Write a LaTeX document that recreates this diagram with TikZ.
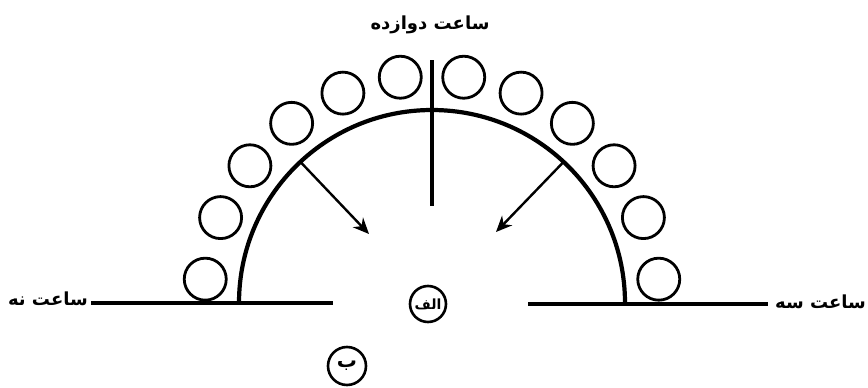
\documentclass[tikz,border=0pt]{standalone}
\usepackage{fontspec}
\newfontfamily\arabicfont[Script=Arabic]{DejaVu Sans}
\TeXXeTstate=1
\usetikzlibrary{arrows.meta,calc}
\tikzset{
  ball/.style={draw, circle, line width=2.8pt, minimum size=42pt, inner sep=0pt},
  thick line/.style={line width=4.2pt},
  label text/.style={font=\arabicfont\bfseries\fontsize{18}{20}\selectfont, inner sep=1pt},
  tag/.style={draw, circle, line width=2.6pt, inner sep=0pt, font=\arabicfont\bfseries\fontsize{14}{16}\selectfont},
  push/.style={line width=2.4pt, -{Stealth[length=16pt, width=14pt]}}
}
\begin{document}
\begin{tikzpicture}[x=1pt, y=-1pt]
\useasboundingbox (0,0) rectangle (868,388);
\coordinate (C) at (432,303);
% base lines
\coordinate (L1) at (91,303);
\coordinate (L2) at (333,303);
\coordinate (R1) at (528,304);
\coordinate (R2) at (768,304);
\draw[thick line] (L1) -- (L2);
\draw[thick line] (R1) -- (R2);
% semicircle
\draw[thick line] (C) ++(-193,0) arc[start angle=180, end angle=360, radius=193];
% vertical line
\coordinate (V1) at (432,60);
\coordinate (V2) at (432,206);
\draw[thick line] (V1) -- (V2);
% balls
\foreach \a [count=\i] in {98,113,128,143,158,174,82,67,52,37,22,6}{
  \node[ball] (b\i) at ($(C)+({228*cos(\a)},{-228*sin(\a)})$) {};
}
% arrows
\coordinate (p1) at ($(C)+({193*cos(133)},{-193*sin(133)})$);
\coordinate (q1) at (369,234);
\coordinate (p2) at ($(C)+({193*cos(47)},{-193*sin(47)})$);
\coordinate (q2) at (496,232);
\draw[push] (p1) -- (q1);
\draw[push] (p2) -- (q2);
% labels
\node[label text] (top) at (430,25) {\beginR ساعت دوازده\endR};
\node[label text, anchor=east] (nine) at (89,299) {\beginR ساعت نه\endR};
\node[label text, anchor=west] (three) at (774,302) {\beginR ساعت سه\endR};
\node[tag, minimum size=36pt] (alef) at (428,304) {\beginR الف\endR};
\node[tag, minimum size=38pt, font=\arabicfont\bfseries\fontsize{20}{22}\selectfont] (be) at (347,366) {\beginR ب\endR};
\end{tikzpicture}
\end{document}
